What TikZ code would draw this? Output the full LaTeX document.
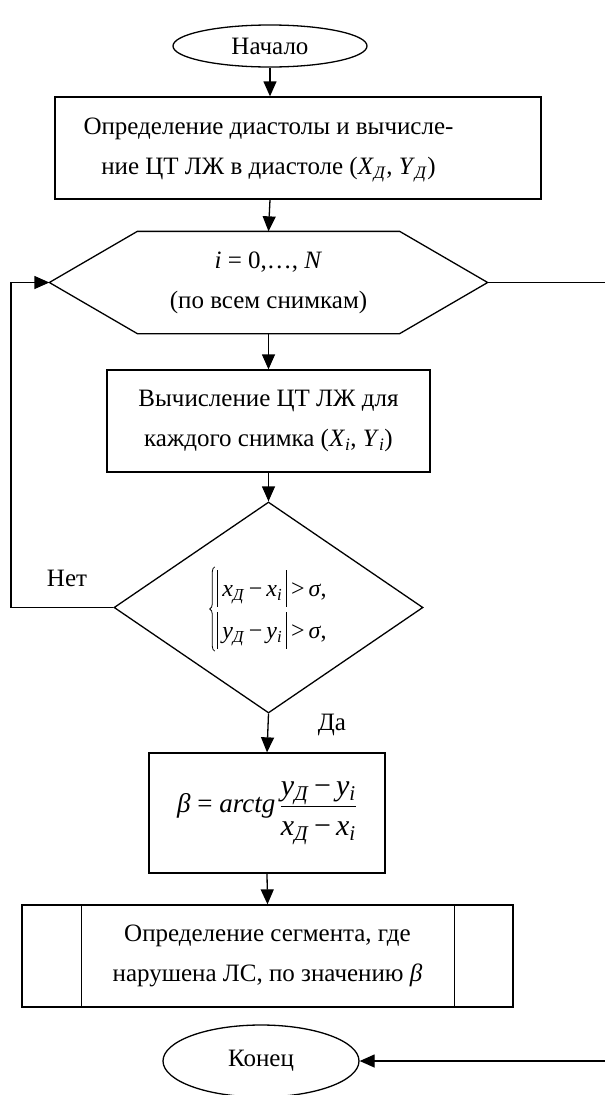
\documentclass[tikz,border=0pt]{standalone}
\usepackage{fontspec}
\setmainfont{Liberation Serif}
\usetikzlibrary{shapes.geometric,arrows.meta,decorations.pathreplacing}
\newcommand{\Dsub}{\textsubscript{\textit{Д}}}
\newcommand{\isub}{\textsubscript{\textit{i}}}
\newcommand{\absbar}{\rule[-10pt]{0.9pt}{37pt}}
\begin{document}
\begin{tikzpicture}[x=1pt,y=-1pt,
  line width=1.3pt,
  every node/.style={font=\fontsize{25}{40}\selectfont, align=center, inner sep=0pt},
  term/.style={draw, ellipse},
  procbox/.style={draw, rectangle},
  flow/.style={-{Triangle[length=15pt,width=13pt]}},
  lbl/.style={font=\fontsize{25}{30}\selectfont}]
\useasboundingbox (0,0) rectangle (605,1095);

\node[term, minimum width=194pt, minimum height=42pt] (start) at (270,46) {Начало};

\node[procbox, minimum width=486pt, minimum height=102pt] (b1) at (298,148) {};
\node (b1t) at (268.5,150)
  {Определение диастолы и вычисле-\\ние ЦТ ЛЖ в диастоле (\textit{X}\Dsub, \textit{Y}\Dsub)};

\node[minimum width=437pt, minimum height=101pt] (hex) at (268.5,282.5)
  {\textit{i} = 0,…, \textit{N}\\(по всем снимкам)};
\draw (hex.west) -- ([xshift=88pt]hex.north west) -- ([xshift=-88pt]hex.north east)
  -- (hex.east) -- ([xshift=-88pt]hex.south east) -- ([xshift=88pt]hex.south west) -- cycle;

\node[procbox, minimum width=323pt, minimum height=102pt] (b2) at (268.5,421)
  {Вычисление ЦТ ЛЖ для\\каждого снимка (\textit{X}\isub, \textit{Y}\isub)};

\node[draw, diamond, minimum width=309pt, minimum height=211pt] (dia) at (268.5,607.5) {};
\node[align=left, font=\fontsize{24}{42}\selectfont] (cond) at (272,609)
  {\absbar\,\textit{x}\Dsub\,−\,\textit{x}\isub\,\absbar\,>\,\textit{σ},\\
   \absbar\,\textit{y}\Dsub\,−\,\textit{y}\isub\,\absbar\,>\,\textit{σ},};
\draw[line width=0.8pt, decorate, decoration={brace, amplitude=5pt}]
  ([xshift=-2pt,yshift=-2pt]cond.south west) -- ([xshift=-2pt,yshift=2pt]cond.north west);

\node[procbox, minimum width=236pt, minimum height=120pt] (b3) at (267,813)
  {\fontsize{27}{30}\selectfont\textit{β} = \textit{arctg}\,$\displaystyle\frac{\mbox{\fontsize{30}{30}\selectfont\rule[-6pt]{0pt}{0pt}\textit{y}\Dsub\,−\,\textit{y}\isub}}{\mbox{\fontsize{30}{30}\selectfont\rule{0pt}{28pt}\textit{x}\Dsub\,−\,\textit{x}\isub}}$};

\node[procbox, minimum width=491pt, minimum height=102pt] (b4) at (267.5,956)
  {Определение сегмента, где\\нарушена ЛС, по значению \textit{β}};
\draw ([xshift=60pt]b4.north west) -- ([xshift=60pt]b4.south west);
\draw ([xshift=-59pt]b4.north east) -- ([xshift=-59pt]b4.south east);

\node[term, minimum width=196pt, minimum height=72pt] (end) at (261,1061) {Конец};

\coordinate (lx) at (11,0);
\coordinate (rx) at (605,0);

\draw[flow] (start.south) -- (start.south |- b1.north);
\draw[flow] (start.south |- b1.south) -- (hex.north);
\draw[flow] (hex.south) -- (b2.north);
\draw[flow] (b2.south) -- (dia.north);
\draw[flow] (dia.south) -- (b3.north);
\draw[flow] (b3.south) -- (b4.north);
\draw[flow] (dia.west) -- (lx |- dia.west) -- (lx |- hex.west) -- (hex.west);
\draw (hex.east) -- (rx |- hex.east);
\draw[flow] (rx |- end.east) -- (end.east);

\node[lbl] (no) at (67,578) {Нет};
\node[lbl] (yes) at (332,725) {Да};
\end{tikzpicture}
\end{document}
